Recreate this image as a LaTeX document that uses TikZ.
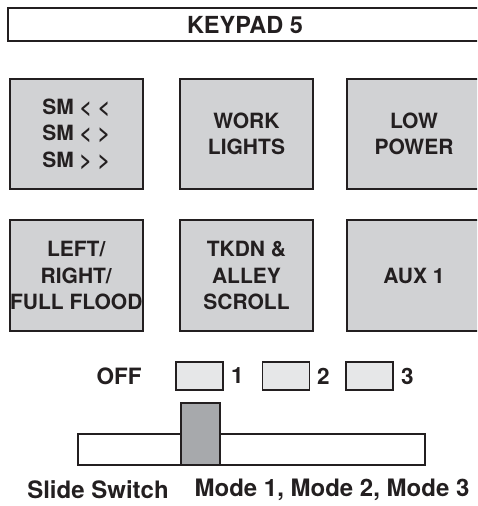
\documentclass[tikz,border=0pt]{standalone}
\usepackage{fontspec}
\setmainfont{TeX Gyre Heros}
\definecolor{ink}{HTML}{231F20}
\definecolor{btnfill}{HTML}{D1D2D4}
\definecolor{smallfill}{HTML}{E6E7E8}
\definecolor{knobfill}{HTML}{A7A9AC}
\begin{document}
\begin{tikzpicture}[x=1pt,y=-1pt,
  btn/.style={draw=ink, line width=2pt, fill=btnfill, minimum width=133.5pt, minimum height=110.5pt, inner sep=0pt, align=center, text=ink, font=\fontsize{21}{26.5}\selectfont\bfseries},
  smallbox/.style={draw=ink, line width=1.6pt, fill=smallfill, minimum width=47pt, minimum height=28pt, inner sep=0pt},
  lbl/.style={text=ink, inner sep=0pt, font=\fontsize{22.5}{26}\selectfont\bfseries},
  caption/.style={text=ink, inner sep=0pt, font=\fontsize{24}{28}\selectfont\bfseries},
  title/.style={draw=ink, line width=2pt, minimum width=482pt, minimum height=33.5pt, inner sep=0pt}
]
\useasboundingbox (0,0) rectangle (477,506);
\clip (0,0) rectangle (477,506);
% title bar
\node[title] (title) at (249,24.5) {};
\node[text=ink, inner sep=0pt, font=\fontsize{23.5}{28}\selectfont\bfseries] (titletext) at (245,25) {KEYPAD 5};
% row 1
\node[btn] (b1) at (76.25,134) {SM {<} {<}\\SM {<} {>}\\SM {>} {>}};
\node[btn] (b2) at (246.5,134) {WORK\\LIGHTS};
\node[btn] (b3) at (414,134) {LOW\\POWER};
% row 2
\node[btn] (b4) at (76.25,275.5) {LEFT/\\RIGHT/\\FULL FLOOD};
\node[btn] (b5) at (246.5,275.5) {TKDN \&\\ALLEY\\SCROLL};
\node[btn] (b6) at (414,275.5) {AUX 1};
% mode indicators
\node[lbl] (off) at (119,376) {OFF};
\node[smallbox] (m1) at (199.5,376) {};
\node[lbl, anchor=west] (l1) at (231,376) {1};
\node[smallbox] (m2) at (286,376) {};
\node[lbl, anchor=west] (l2) at (317,376) {2};
\node[smallbox] (m3) at (369.5,376) {};
\node[lbl, anchor=west] (l3) at (401,376) {3};
% slide switch
\node[draw=ink, line width=2.5pt, minimum width=347pt, minimum height=31pt, inner sep=0pt] (track) at (251.5,449.5) {};
\node[draw=ink, line width=2.5pt, fill=knobfill, minimum width=39pt, minimum height=62pt, inner sep=0pt] (knob) at (200.5,434) {};
% captions
\node[caption] (cap1) at (98,490) {Slide Switch};
\node[caption] (cap2) at (332,490) {Mode 1, Mode 2, Mode 3};
\end{tikzpicture}
\end{document}
